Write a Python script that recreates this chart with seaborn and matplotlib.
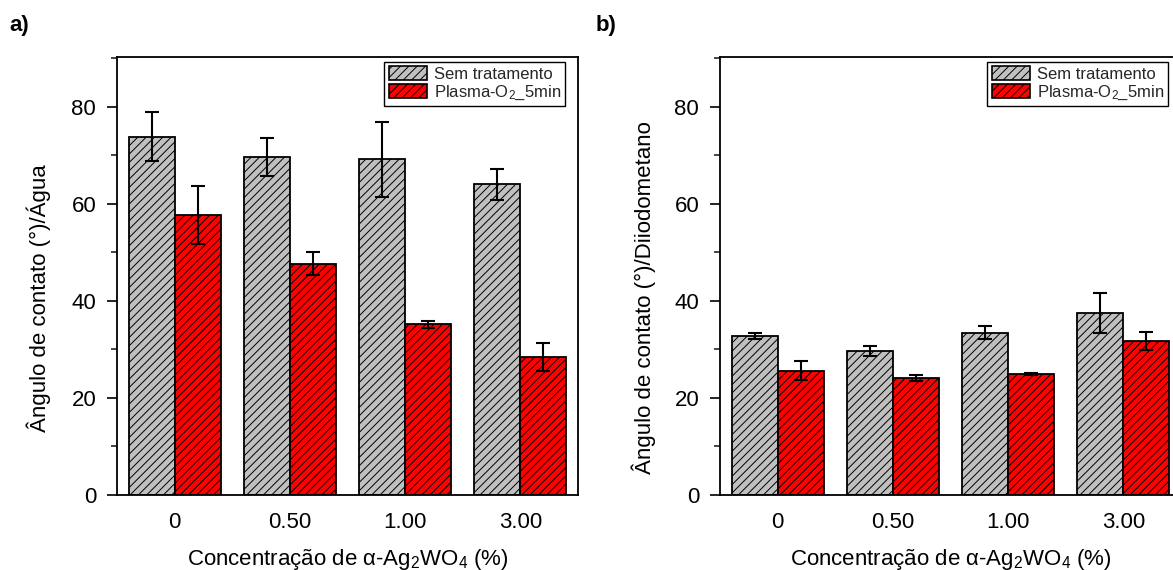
import matplotlib
matplotlib.use("Agg")
import matplotlib.pyplot as plt
import seaborn as sns
import pandas as pd
from matplotlib.patches import Patch
from matplotlib.ticker import MultipleLocator

# ---------------- data ----------------
concentracoes = ['0', '0.50', '1.00', '3.00']
series = ['Sem tratamento', 'Plasma-O$_2$_5min']

agua_sem = [73.9, 69.6, 69.2, 64.1]
agua_sem_err = [5.0, 3.9, 7.8, 3.2]
agua_plasma = [57.7, 47.7, 35.2, 28.5]
agua_plasma_err = [6.0, 2.4, 0.75, 2.85]

diiodo_sem = [32.8, 29.7, 33.5, 37.5]
diiodo_sem_err = [0.6, 0.95, 1.35, 4.15]
diiodo_plasma = [25.6, 24.1, 25.0, 31.8]
diiodo_plasma_err = [1.95, 0.55, 0.2, 1.9]

y_ticks = [0, 20, 40, 60, 80]
colors = ['#c0c0c0', '#ff0000']

# ---------------- style ----------------
sns.set_theme(style='white')
plt.rcParams['font.family'] = ['Liberation Sans', 'DejaVu Sans']
plt.rcParams['mathtext.fontset'] = 'custom'
plt.rcParams['mathtext.rm'] = 'Liberation Sans'
plt.rcParams['mathtext.it'] = 'Liberation Sans:italic'
plt.rcParams['hatch.linewidth'] = 0.7
plt.rcParams['hatch.color'] = 'black'

fig = plt.figure(figsize=(11.73, 5.70), dpi=100)
W, H = 1173, 570
ax_w = 461 / W
ax_h = (495 - 57) / H
ax_b = 1 - 495 / H
ax1 = fig.add_axes([117 / W, ax_b, ax_w, ax_h])
ax2 = fig.add_axes([720 / W, ax_b, ax_w, ax_h])


def draw(ax, sem, sem_err, plasma, plasma_err, ylabel):
    df = pd.DataFrame({
        'conc': concentracoes * 2,
        'serie': [series[0]] * 4 + [series[1]] * 4,
        'valor': list(sem) + list(plasma),
    })
    errs = [sem_err, plasma_err]
    sns.barplot(data=df, x='conc', y='valor', hue='serie', order=concentracoes,
                hue_order=series, palette=colors, saturation=1, errorbar=None,
                width=0.8, edgecolor='black', linewidth=1.3, legend=False, ax=ax)
    for cont, e in zip(ax.containers, errs):
        xs, ys = [], []
        for bar in cont:
            bar.set_hatch('////')
            bar.set_edgecolor('black')
            xs.append(bar.get_x() + bar.get_width() / 2)
            ys.append(bar.get_height())
        ax.errorbar(xs, ys, yerr=e, fmt='none', ecolor='black', elinewidth=1.5,
                    capsize=5, capthick=1.5, zorder=5)

    ax.set_xlim(-0.5, 3.5)
    ax.set_ylim(0, 90.3)
    ax.set_yticks(y_ticks)
    ax.yaxis.set_minor_locator(MultipleLocator(10))
    for s in ax.spines.values():
        s.set_visible(True)
        s.set_color('black')
        s.set_linewidth(1.3)
    ax.tick_params(axis='y', which='major', direction='out', length=7, width=1.2,
                   labelsize=16, pad=8, left=True, right=False, colors='black')
    ax.tick_params(axis='y', which='minor', direction='out', length=4, width=1.2,
                   left=True, right=False)
    ax.tick_params(axis='x', length=0, labelsize=16, pad=12, colors='black')
    ax.set_xlabel(r'Concentração de $\mathrm{\alpha}$-Ag$_2$WO$_4$ (%)', fontsize=16,
                  color='black', labelpad=10)
    ax.set_ylabel(ylabel, fontsize=16, color='black')

    handles = [Patch(facecolor=c, edgecolor='black', hatch='////', linewidth=1.2)
               for c in colors]
    leg = ax.legend(handles, series, loc='upper right',
                    bbox_to_anchor=(1 - 13 / 461, 1 - 5 / 438), borderaxespad=0,
                    fontsize=12, frameon=True, fancybox=False, framealpha=1,
                    handlelength=2.3, handleheight=0.9, handletextpad=0.4,
                    labelspacing=0.1, borderpad=0.25)
    leg.get_frame().set_edgecolor('black')
    leg.get_frame().set_linewidth(1.0)


draw(ax1, agua_sem, agua_sem_err, agua_plasma, agua_plasma_err,
     'Ângulo de contato (°)/Água')
draw(ax2, diiodo_sem, diiodo_sem_err, diiodo_plasma, diiodo_plasma_err,
     'Ângulo de contato (°)/Diiodometano')

ax1.yaxis.set_label_coords(-0.143, 0.45)
ax2.yaxis.set_label_coords(-0.139, 0.45)

fig.text(9 / W, 1 - 31 / H, 'a)', fontsize=16, fontweight='bold', color='black')
fig.text(596 / W, 1 - 31 / H, 'b)', fontsize=16, fontweight='bold', color='black')

fig.savefig('out.png', dpi=100)
